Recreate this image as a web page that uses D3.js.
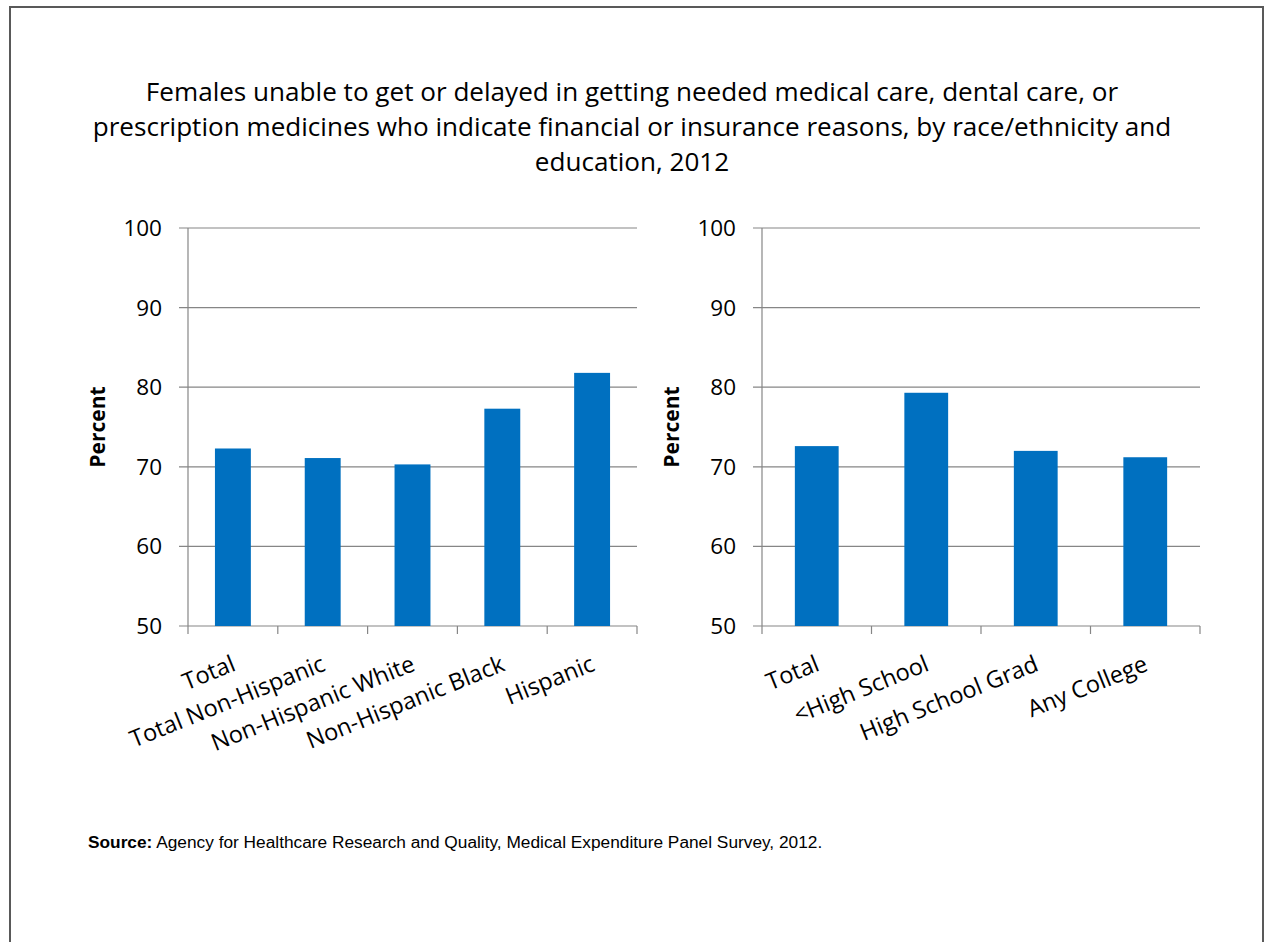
<!DOCTYPE html>
<html>
<head>
<meta charset="utf-8">
<script src="https://cdn.jsdelivr.net/npm/d3@7"></script>
<style>
  body { margin: 0; background: #fff; }
  svg { display: block; }
  .lbl { font-family: "Open Sans", Lato, sans-serif; fill: #000; }
</style>
</head>
<body>
<svg id="chart" width="1264" height="942"></svg>
<script>
// values
const raceCategories = ["Total", "Total Non-Hispanic", "Non-Hispanic White", "Non-Hispanic Black", "Hispanic"];
const raceValues = [72.3, 71.1, 70.3, 77.3, 81.8];
const eduCategories = ["Total", "<High School", "High School Grad", "Any College"];
const eduValues = [72.6, 79.3, 72.0, 71.2];
const yTicks = [50, 60, 70, 80, 90, 100];
const titleLines = [
    "Females unable to get or delayed in getting needed medical care, dental care, or",
    "prescription medicines who indicate financial or insurance reasons, by race/ethnicity and",
    "education, 2012"
];

const svg = d3.select("#chart");
const barColor = "#0070C0";
const gridColor = "#868686";

// page frame
svg.append("path")
    .attr("d", "M10,960V7H1263V960")
    .attr("fill", "none")
    .attr("stroke", "#595959")
    .attr("stroke-width", 2);

svg.append("g").selectAll("text")
    .data(titleLines)
    .join("text")
    .attr("class", "lbl")
    .attr("x", 632)
    .attr("y", (d, i) => 101 + i * 35)
    .attr("text-anchor", "middle")
    .attr("font-size", 26.1)
    .text(d => d);

const y = d3.scaleLinear().domain([50, 100]).range([626, 228]);

function drawPanel(categories, values, x0, x1, titleX) {
    const x = d3.scaleBand().domain(categories).range([x0, x1]).paddingInner(0.6).paddingOuter(0.3);
    const g = svg.append("g");

    g.append("g").selectAll("line")
        .data(yTicks)
        .join("line")
        .attr("x1", x0 - 9).attr("x2", x1)
        .attr("y1", d => y(d)).attr("y2", d => y(d))
        .attr("stroke", gridColor).attr("stroke-width", 1.2);

    g.append("g").selectAll("text")
        .data(yTicks)
        .join("text")
        .attr("class", "lbl")
        .attr("x", x0 - 26)
        .attr("y", d => y(d) + 8)
        .attr("text-anchor", "end")
        .attr("font-size", 22.5)
        .text(d => d);

    g.append("g").selectAll("rect")
        .data(values)
        .join("rect")
        .attr("x", (d, i) => x(categories[i]))
        .attr("width", x.bandwidth())
        .attr("y", d => y(d))
        .attr("height", d => y(50) - y(d))
        .attr("fill", barColor);

    // axes
    g.append("line")
        .attr("x1", x0).attr("x2", x0).attr("y1", y(100)).attr("y2", y(50))
        .attr("stroke", gridColor).attr("stroke-width", 1.2);
    const step = x.step();
    g.append("g").selectAll("line")
        .data(d3.range(categories.length + 1))
        .join("line")
        .attr("x1", i => x0 + i * step).attr("x2", i => x0 + i * step)
        .attr("y1", y(50)).attr("y2", y(50) + 8)
        .attr("stroke", gridColor).attr("stroke-width", 1.2);

    g.append("g").selectAll("text")
        .data(categories)
        .join("text")
        .attr("class", "lbl")
        .attr("font-size", 23.5)
        .attr("text-anchor", "end")
        .attr("transform", d => `translate(${x(d) + x.bandwidth() / 2 + 4},${y(50) + 44}) rotate(-22)`)
        .text(d => d);

    g.append("text")
        .attr("class", "lbl")
        .attr("font-size", 21)
        .attr("font-weight", "bold")
        .attr("text-anchor", "middle")
        .attr("transform", `translate(${titleX},${y(75)}) rotate(-90)`)
        .text("Percent");
}

drawPanel(raceCategories, raceValues, 188, 637, 105);
drawPanel(eduCategories, eduValues, 762, 1200, 679);

const src = svg.append("text")
    .attr("x", 88).attr("y", 848)
    .attr("font-family", "'Liberation Sans', Arial, sans-serif")
    .attr("font-size", 17.3);
src.append("tspan").attr("font-weight", "bold").text("Source:");
src.append("tspan").text(" Agency for Healthcare Research and Quality, Medical Expenditure Panel Survey, 2012.");
</script>
</body>
</html>
